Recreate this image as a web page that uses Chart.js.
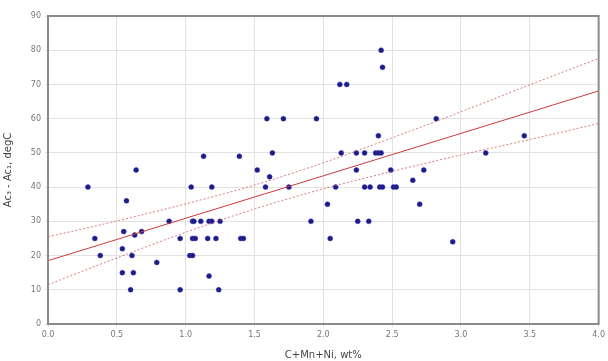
<!DOCTYPE html>
<html>
<head>
<meta charset="utf-8">
<script src="https://cdn.jsdelivr.net/npm/chart.js@4.4.1/dist/chart.umd.min.js"></script>
<style>
  html, body { margin: 0; padding: 0; background: #fff; }
  #wrap { width: 608px; height: 361px; }
</style>
</head>
<body>
<div id="wrap"><canvas id="chart"></canvas></div>
<script>
// measured points (C+Mn+Ni wt%, Ac3-Ac1 degC)
const sumX = [0.29, 0.34, 0.38, 0.54, 0.54, 0.55, 0.57, 0.60, 0.61, 0.62, 0.63, 0.64, 0.68, 0.79, 0.88, 0.96, 0.96,
  1.03, 1.05, 1.04, 1.05, 1.06, 1.11, 1.17, 1.19, 1.25, 1.05, 1.07, 1.16, 1.22, 1.40, 1.42, 1.17, 1.24, 1.13, 1.19,
  1.39, 1.52, 1.58, 1.59, 1.61, 1.63, 1.71, 1.75, 1.91, 1.95, 2.03, 2.05, 2.09, 2.12, 2.17, 2.13, 2.24, 2.30, 2.38,
  2.40, 2.42, 2.24, 2.25, 2.33, 2.30, 2.34, 2.41, 2.43, 2.51, 2.53, 2.40, 2.42, 2.43, 2.49, 2.65, 2.70, 2.73, 2.82,
  2.94, 3.18, 3.46];
const deltaT = [40, 25, 20, 22, 15, 27, 36, 10, 20, 15, 26, 45, 27, 18, 30, 25, 10,
  20, 20, 40, 30, 30, 30, 30, 30, 30, 25, 25, 25, 25, 25, 25, 14, 10, 49, 40,
  49, 45, 40, 60, 43, 50, 60, 40, 30, 60, 35, 25, 40, 70, 70, 50, 50, 50, 50,
  50, 50, 45, 30, 30, 40, 40, 40, 40, 40, 40, 55, 80, 75, 45, 42, 35, 45, 60,
  24, 50, 55];

// regression line and 95% band
const fitX = [0, 0.5, 1.0, 1.5, 2.0, 2.5, 3.0, 3.5, 4.0];
const fitY = [18.5, 24.7, 30.9, 37.1, 43.3, 49.5, 55.7, 61.9, 68.1];
const upperY = [25.5, 30.1, 35.1, 40.6, 47.1, 54.4, 62.0, 69.9, 77.6];
const lowerY = [11.5, 19.3, 26.8, 33.6, 39.5, 44.6, 49.4, 53.9, 58.6];

const toPts = (xs, ys) => xs.map((x, i) => ({ x: x, y: ys[i] }));

// frame on top and right like the original
const frame = {
    id: 'frame',
    afterDraw(chart) {
        const a = chart.chartArea;
        const ctx = chart.ctx;
        ctx.save();
        ctx.strokeStyle = '#8a8a8a';
        ctx.lineWidth = 2;
        ctx.strokeRect(a.left, a.top, a.right - a.left, a.bottom - a.top);
        ctx.restore();
    }
};

new Chart(document.getElementById('chart'), {
    type: 'scatter',
    data: {
        datasets: [
            {
                type: 'line',
                data: toPts(fitX, upperY),
                borderColor: 'rgba(215, 90, 90, 0.8)',
                borderWidth: 1,
                borderDash: [2, 2],
                pointRadius: 0,
                cubicInterpolationMode: 'monotone'
            },
            {
                type: 'line',
                data: toPts(fitX, lowerY),
                borderColor: 'rgba(215, 90, 90, 0.8)',
                borderWidth: 1,
                borderDash: [2, 2],
                pointRadius: 0,
                cubicInterpolationMode: 'monotone'
            },
            {
                type: 'line',
                data: toPts(fitX, fitY),
                borderColor: '#cc3a3a',
                borderWidth: 1,
                pointRadius: 0
            },
            {
                data: toPts(sumX, deltaT),
                backgroundColor: '#1c1c82',
                borderColor: '#3a3ac0',
                borderWidth: 0.5,
                pointRadius: 2.5
            }
        ]
    },
    options: {
        responsive: true,
        maintainAspectRatio: false,
        animation: false,
        layout: { padding: { top: 16, right: 2, left: 2, bottom: 0 } },
        plugins: {
            legend: { display: false },
            tooltip: { enabled: false }
        },
        scales: {
            x: {
                type: 'linear',
                min: 0,
                max: 4,
                afterFit: s => { s.height = 37; },
                ticks: {
                    stepSize: 0.5,
                    color: '#777',
                    font: { family: 'DejaVu Sans', size: 8 },
                    padding: 3,
                    callback: v => v.toFixed(1)
                },
                grid: { color: '#e2e2e2', tickLength: 3 },
                border: { color: '#8a8a8a', width: 2 },
                title: {
                    display: true,
                    text: 'C+Mn+Ni, wt%',
                    color: '#444',
                    font: { family: 'DejaVu Sans', size: 10 },
                    padding: { top: 3, bottom: 0 }
                }
            },
            y: {
                min: 0,
                max: 90,
                afterFit: s => { s.width = 46; },
                ticks: {
                    stepSize: 10,
                    color: '#777',
                    font: { family: 'DejaVu Sans', size: 8 },
                    padding: 4
                },
                grid: { color: '#e2e2e2', tickLength: 3 },
                border: { color: '#8a8a8a', width: 2 },
                title: {
                    display: true,
                    text: 'Ac\u2083 - Ac\u2081, degC',
                    color: '#444',
                    font: { family: 'DejaVu Sans', size: 10 },
                    padding: { top: 0, bottom: 6 }
                }
            }
        }
    },
    plugins: [frame]
});
</script>
</body>
</html>
